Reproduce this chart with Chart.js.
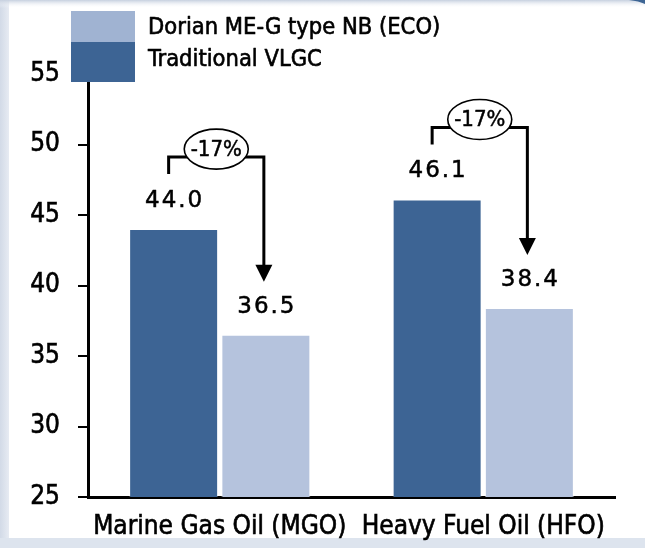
<!DOCTYPE html>
<html>
<head>
<meta charset="utf-8">
<script src="https://cdn.jsdelivr.net/npm/chart.js@4"></script>
<style>
  html, body { margin: 0; padding: 0; background: #fff; overflow: hidden; }
  #wrap { width: 645px; height: 548px; position: relative; }
</style>
</head>
<body>
<div id="wrap"><canvas id="c" width="645" height="548"></canvas></div>
<script>
// Fuel consumption comparison, tonnes per day
const categories = ['Marine Gas Oil (MGO)', 'Heavy Fuel Oil (HFO)'];
const seriesNames = ['Traditional VLGC', 'Dorian ME-G type NB (ECO)'];
const traditionalVLGC = [44.0, 46.1];
const dorianEco = [36.5, 38.4];
const yTicks = [25, 30, 35, 40, 45, 50, 55];

const DARK = '#3d6494';
const LIGHT = '#b5c3dd';
const FONT = "'DejaVu Sans Condensed', 'DejaVu Sans', sans-serif";
const FONT_WIDE = "'DejaVu Sans', sans-serif";

// text with a thin outline so strokes read a little heavier
function heavyText(ctx, txt, x, y, w) {
  ctx.lineWidth = w;
  ctx.strokeStyle = '#000';
  ctx.lineJoin = 'round';
  ctx.strokeText(txt, x, y);
  ctx.fillText(txt, x, y);
}

// Slide frame: pale blue border bands and the corner swoosh
const framePlugin = {
  id: 'frame',
  beforeDraw(chart) {
    const { ctx, width, height } = chart;
    ctx.save();
    ctx.fillStyle = '#ffffff';
    ctx.fillRect(0, 0, width, height);
    let g = ctx.createLinearGradient(0, 0, 10, 0);
    g.addColorStop(0, '#d2dae7');
    g.addColorStop(1, '#e9edf4');
    ctx.fillStyle = g;
    ctx.fillRect(0, 0, 9, height);
    g = ctx.createLinearGradient(0, 0, 0, 8);
    g.addColorStop(0, '#c6d0df');
    g.addColorStop(1, 'rgba(255,255,255,0)');
    ctx.fillStyle = g;
    ctx.fillRect(0, 0, width, 8);
    ctx.fillStyle = '#dde4ee';
    ctx.fillRect(0, 538, width, height - 538);
    ctx.fillStyle = '#3d6594';
    ctx.beginPath();
    ctx.moveTo(629, 0);
    ctx.quadraticCurveTo(639, 1, 645, 4);
    ctx.lineTo(645, 0);
    ctx.closePath();
    ctx.fill();
    ctx.restore();
  }
};

// Legend swatches, value labels and the percentage-saving arrows
const overlayPlugin = {
  id: 'overlay',
  afterDraw(chart) {
    const { ctx } = chart;
    const dsets = chart.data.datasets;
    ctx.save();

    // legend: ECO swatch on top, traditional below
    const order = [1, 0];
    const boxX = 71, boxW = 64;
    const rows = [{ y: 11, h: 31, ty: 28 }, { y: 42, h: 40, ty: 60 }];
    order.forEach((di, r) => {
      ctx.fillStyle = dsets[di].legendColor;
      ctx.fillRect(boxX, rows[r].y, boxW, rows[r].h);
      ctx.fillStyle = '#000';
      ctx.font = '23.5px ' + FONT;
      ctx.textAlign = 'left';
      ctx.textBaseline = 'middle';
      heavyText(ctx, dsets[di].label, 148, rows[r].ty, 0.6);
    });

    const m0 = chart.getDatasetMeta(0);
    const m1 = chart.getDatasetMeta(1);
    categories.forEach((cat, i) => {
      const d = m0.data[i];
      const l = m1.data[i];
      const vd = dsets[0].data[i];
      const vl = dsets[1].data[i];

      // value labels
      ctx.fillStyle = '#000';
      ctx.font = '23px ' + FONT_WIDE;
      ctx.letterSpacing = '2px';
      ctx.textAlign = 'center';
      ctx.textBaseline = 'middle';
      heavyText(ctx, vd.toFixed(1), d.x + 1, d.y - 28, 0.5);
      heavyText(ctx, vl.toFixed(1), l.x + 1, l.y - 28, 0.5);
      ctx.letterSpacing = '0px';

      // bracket arrow from the traditional bar to the ECO bar
      const lx = d.x - 5;
      const rx = l.x - 2;
      const stubBottom = d.y - 55;
      const hy = d.y - 72;
      const tip = l.y - 53;
      const headH = 17, headW = 8.5;
      ctx.strokeStyle = '#000';
      ctx.lineWidth = 3;
      ctx.lineJoin = 'miter';
      ctx.beginPath();
      ctx.moveTo(lx, stubBottom);
      ctx.lineTo(lx, hy);
      ctx.lineTo(rx, hy);
      ctx.lineTo(rx, tip - headH + 1);
      ctx.stroke();
      ctx.fillStyle = '#000';
      ctx.beginPath();
      ctx.moveTo(rx - headW, tip - headH);
      ctx.lineTo(rx + headW, tip - headH);
      ctx.lineTo(rx, tip);
      ctx.closePath();
      ctx.fill();

      // percentage bubble
      const cx = (lx + rx) / 2;
      const cy = hy - 8;
      ctx.beginPath();
      ctx.ellipse(cx, cy, 32, 20, 0, 0, Math.PI * 2);
      ctx.fillStyle = '#fff';
      ctx.fill();
      ctx.lineWidth = 1.6;
      ctx.stroke();
      const pct = Math.round((vl - vd) / vd * 100);
      ctx.fillStyle = '#000';
      ctx.font = '22px ' + FONT;
      heavyText(ctx, pct + '%', cx, cy + 1, 0.5);
    });
    ctx.restore();
  }
};

new Chart(document.getElementById('c'), {
  type: 'bar',
  data: {
    labels: categories,
    datasets: [
      {
        label: seriesNames[0],
        data: traditionalVLGC,
        backgroundColor: DARK,
        legendColor: DARK,
        borderColor: 'rgba(255,255,255,0.25)',
        borderWidth: 1,
        borderSkipped: false
      },
      {
        label: seriesNames[1],
        data: dorianEco,
        backgroundColor: LIGHT,
        legendColor: '#a0b3d2',
        borderColor: 'rgba(255,255,255,0.5)',
        borderWidth: 1,
        borderSkipped: false
      }
    ]
  },
  options: {
    responsive: false,
    animation: false,
    events: [],
    layout: { padding: { top: 74, right: 30, left: 0, bottom: 0 } },
    categoryPercentage: 0.7,
    barPercentage: 0.965,
    plugins: { legend: { display: false }, tooltip: { enabled: false } },
    scales: {
      x: {
        z: 1,
        grid: { display: false, drawTicks: false },
        border: { display: true, color: '#000', width: 3 },
        ticks: {
          color: '#000', font: { family: FONT, size: 26 }, padding: 15, maxRotation: 0,
          textStrokeColor: '#000', textStrokeWidth: 0.6
        },
        afterFit(s) { s.height = 51; }
      },
      y: {
        min: yTicks[0],
        max: yTicks[yTicks.length - 1],
        afterBuildTicks(s) { s.ticks = yTicks.map(v => ({ value: v })); },
        grid: { display: true, drawOnChartArea: false, drawTicks: true, tickLength: 10, color: '#000', lineWidth: 2 },
        border: { display: true, color: '#000', width: 3 },
        ticks: {
          color: '#000', font: { family: FONT, size: 26 }, padding: 18,
          textStrokeColor: '#000', textStrokeWidth: 0.6
        },
        afterFit(s) { s.width = 88; }
      }
    }
  },
  plugins: [framePlugin, overlayPlugin]
});
</script>
</body>
</html>
